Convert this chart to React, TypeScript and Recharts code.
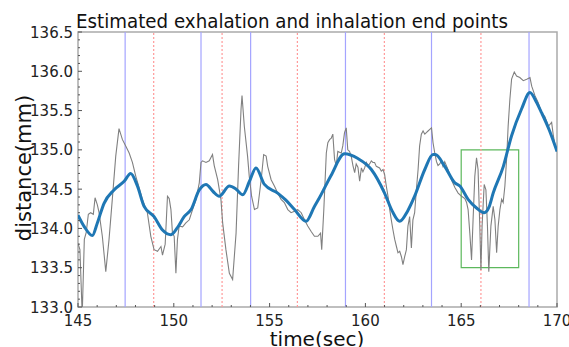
import React from 'react'
import { LineChart, Line, XAxis, YAxis, ReferenceLine, ReferenceArea } from 'recharts'

// raw distance signal (gray)
const rawTime = [
  145.0, 145.1, 145.22, 145.33, 145.43, 145.54, 145.66, 145.8, 145.89, 146.01,
  146.1, 146.27, 146.45, 146.62, 146.79, 146.97, 147.14, 147.32, 147.49, 147.67,
  147.84, 148.02, 148.19, 148.36, 148.62, 148.8, 148.97, 149.15, 149.33, 149.41,
  149.55, 149.67, 149.76, 149.85, 149.93, 150.02, 150.11, 150.19, 150.28, 150.46,
  150.63, 150.81, 150.98, 151.16, 151.33, 151.42, 151.5, 151.68, 151.85, 152.02,
  152.11, 152.29, 152.46, 152.55, 152.72, 152.9, 153.07, 153.25, 153.38, 153.51,
  153.56, 153.68, 153.85, 153.94, 154.06, 154.21, 154.38, 154.56, 154.69, 154.82,
  154.9, 155.08, 155.25, 155.42, 155.6, 155.77, 155.95, 156.12, 156.3, 156.47,
  156.65, 156.82, 156.99, 157.17, 157.34, 157.52, 157.66, 157.72, 157.83, 157.96,
  158.04, 158.13, 158.22, 158.3, 158.39, 158.48, 158.56, 158.65, 158.74, 158.82,
  158.91, 159.0, 159.08, 159.17, 159.26, 159.35, 159.44, 159.52, 159.61, 159.7,
  159.79, 159.87, 159.96, 160.05, 160.13, 160.22, 160.31, 160.39, 160.48, 160.57,
  160.74, 160.83, 160.92, 161.0, 161.09, 161.18, 161.27, 161.35, 161.44, 161.53,
  161.62, 161.7, 161.79, 161.88, 161.96, 162.05, 162.14, 162.22, 162.31, 162.4,
  162.48, 162.57, 162.66, 162.75, 162.83, 162.92, 163.01, 163.1, 163.18, 163.27,
  163.36, 163.45, 163.53, 163.62, 163.71, 163.79, 163.88, 163.97, 164.05, 164.14,
  164.31, 164.49, 164.67, 164.84, 165.02, 165.19, 165.28, 165.36, 165.45, 165.54,
  165.62, 165.71, 165.8, 165.88, 165.97, 166.03, 166.09, 166.2, 166.29, 166.37,
  166.44, 166.55, 166.67, 166.76, 166.85, 166.93, 167.02, 167.11, 167.19, 167.28,
  167.37, 167.45, 167.54, 167.63, 167.77, 167.89, 168.06, 168.24, 168.42, 168.59,
  168.68, 168.85, 169.02, 169.2, 169.37, 169.55, 169.72, 169.81, 169.9, 170.0,
]
const rawDistance = [
  133.81, 133.73, 132.9, 133.86, 133.95, 134.18, 134.2, 134.18, 134.39, 134.3,
  134.2, 133.9, 133.45, 133.86, 134.37, 134.92, 135.27, 135.13, 135.05, 134.96,
  134.84, 134.66, 134.52, 134.37, 134.2, 133.9, 133.73, 133.71, 133.77, 133.66,
  133.8, 134.41, 134.38, 134.24, 133.94, 133.9, 133.43, 133.86, 134.03, 134.02,
  134.07, 134.11, 134.24, 134.37, 134.58, 134.84, 134.86, 134.84, 134.86, 134.94,
  134.8, 134.62, 134.37, 134.07, 133.73, 133.43, 133.35, 133.94, 134.79, 135.52,
  135.69, 135.3, 134.92, 134.66, 134.41, 134.24, 134.26, 134.62, 134.94, 134.92,
  134.79, 134.62, 134.54, 134.45, 134.37, 134.33, 134.24, 134.2, 134.22, 134.24,
  134.2, 134.11, 134.03, 133.96, 133.9, 133.9, 133.94, 133.73, 134.24, 134.96,
  135.09, 135.13, 135.15, 135.2, 134.88, 134.8, 134.98, 134.97, 134.96, 135.05,
  135.22, 135.28, 135.0, 134.98, 134.92, 134.8, 134.71, 134.82, 134.78, 134.6,
  134.77, 134.72, 134.77, 134.84, 134.8, 134.82, 134.86, 134.84, 134.84, 134.79,
  134.77, 134.73, 134.75, 134.69, 134.54, 134.41, 134.24, 134.11, 133.98, 133.86,
  133.77, 133.69, 133.71, 133.64, 133.54, 133.64, 133.73, 134.03, 134.15, 133.75,
  134.11, 134.2, 134.49, 134.75, 135.05, 135.2, 135.24, 135.2, 135.22, 135.24,
  135.26, 135.28, 135.09, 134.96, 134.85, 134.8, 134.82, 134.86, 134.79, 134.85,
  134.75, 134.62, 134.52, 134.45, 134.41, 134.38, 134.33, 134.24, 133.94, 133.6,
  134.11, 134.66, 134.9, 134.75, 134.03, 133.47, 134.03, 134.56, 134.49, 134.03,
  133.45, 134.03, 134.28, 134.11, 133.69, 134.03, 134.24, 134.37, 134.33, 134.54,
  134.88, 135.3, 135.64, 135.9, 135.99, 135.94, 135.92, 135.88, 135.9, 135.92,
  135.81, 135.69, 135.6, 135.47, 135.42, 135.3, 135.35, 135.18, 135.05, 134.98,
]

// smoothed estimate (blue)
const smoothTime = [
  145.0, 145.31, 145.75, 146.01, 146.36, 146.88, 147.41, 147.75, 148.1, 148.45,
  148.97, 149.41, 149.85, 150.19, 150.54, 150.9, 151.33, 151.68, 152.05, 152.37,
  152.9, 153.25, 153.6, 153.95, 154.29, 154.73, 155.42, 155.85, 156.3, 156.9,
  157.34, 157.6, 158.2, 158.91, 159.61, 160.31, 161.0, 161.4, 161.79, 162.2,
  162.57, 163.1, 163.53, 163.65, 164.14, 164.67, 164.93, 165.36, 165.8, 166.2,
  166.45, 166.67, 167.2, 167.63, 168.15, 168.59, 168.9, 169.2, 169.6, 170.0,
]
const smoothDistance = [
  134.17, 134.03, 133.91, 134.07, 134.32, 134.49, 134.6, 134.7, 134.54, 134.28,
  134.15, 133.98, 133.92, 134.01, 134.15, 134.24, 134.49, 134.56, 134.47, 134.41,
  134.54, 134.5, 134.43, 134.6, 134.77, 134.56, 134.45, 134.36, 134.24, 134.09,
  134.28, 134.39, 134.67, 134.95, 134.89, 134.75, 134.45, 134.22, 134.09, 134.22,
  134.41, 134.75, 134.94, 134.94, 134.79, 134.58, 134.54, 134.37, 134.26, 134.2,
  134.27, 134.45, 134.79, 135.18, 135.52, 135.73, 135.62, 135.47, 135.25, 134.98,
]

const exhaleEnds = [147.46, 151.42, 154.01, 158.96, 163.45, 168.54]
const inhaleEnds = [148.95, 152.52, 156.45, 160.99, 166.03]

const xTicks = [145, 150, 155, 160, 165, 170]
const yTicks = [133.0, 133.5, 134.0, 134.5, 135.0, 135.5, 136.0, 136.5]

const rawData = rawTime.map((t, i) => ({ t, v: rawDistance[i] }))
const smoothData = smoothTime.map((t, i) => ({ t, v: smoothDistance[i] }))

// minor ticks: 1 s on x, 0.1 mm on y
const xMinor: number[] = []
for (let i = 0; i < xTicks.length - 1; i++) {
  for (let k = 0; k < 5; k++) xMinor.push(xTicks[i] + k)
}
xMinor.push(xTicks[xTicks.length - 1])
const yMinor: number[] = []
for (let i = 0; i < yTicks.length - 1; i++) {
  for (let k = 0; k < 5; k++) yMinor.push(Math.round((yTicks[i] + k * 0.1) * 10) / 10)
}
yMinor.push(yTicks[yTicks.length - 1])

const font = 'DejaVu Sans, sans-serif'

function XTick(props: any) {
  const { x, y, payload } = props
  const major = xTicks.includes(payload.value)
  return (
    <g>
      <line x1={x} x2={x} y1={y} y2={y - (major ? 4 : 2)} stroke="#555" strokeWidth={1} />
      {major && (
        <text x={x} y={y + 19} textAnchor="middle" fontSize={15} fontFamily={font} fill="#222">
          {payload.value}
        </text>
      )}
    </g>
  )
}

function YTick(props: any) {
  const { x, y, payload } = props
  const major = yTicks.some((v) => Math.abs(v - payload.value) < 1e-6)
  return (
    <g>
      <line x1={x} x2={x + (major ? 4 : 2)} y1={y} y2={y} stroke="#555" strokeWidth={1} />
      {major && (
        <text x={x - 5} y={y + 5.5} textAnchor="end" fontSize={15} fontFamily={font} fill="#222">
          {payload.value.toFixed(1)}
        </text>
      )}
    </g>
  )
}

export default function App() {
  return (
    <div style={{ position: 'absolute', left: 0, top: 0, width: 569, height: 347, background: '#fff' }}>
      <LineChart width={569} height={347} margin={{ top: 32, right: 12, bottom: 0, left: 0 }}>
        <XAxis
          type="number"
          dataKey="t"
          domain={[145, 170]}
          ticks={xMinor}
          interval={0}
          height={40}
          axisLine={false}
          tickLine={false}
          tickSize={0}
          tickMargin={0}
          tick={<XTick />}
          allowDataOverflow
        />
        <YAxis
          type="number"
          dataKey="v"
          domain={[133, 136.5]}
          ticks={yMinor}
          interval={0}
          width={78}
          axisLine={false}
          tickLine={false}
          tickSize={0}
          tickMargin={0}
          tick={<YTick />}
          allowDataOverflow
        />
        {exhaleEnds.map((t) => (
          <ReferenceLine key={'e' + t} x={t} stroke="#a4a4ff" strokeWidth={1.2} />
        ))}
        {inhaleEnds.map((t) => (
          <ReferenceLine key={'i' + t} x={t} stroke="#ff9a9a" strokeWidth={1.2} strokeDasharray="2 2" />
        ))}
        <Line
          data={rawData}
          dataKey="v"
          type="linear"
          stroke="#808080"
          strokeWidth={1.1}
          dot={false}
          activeDot={false}
          isAnimationActive={false}
        />
        <Line
          data={smoothData}
          dataKey="v"
          type="monotone"
          stroke="#1f77b4"
          strokeWidth={3}
          dot={false}
          activeDot={false}
          isAnimationActive={false}
        />
        <ReferenceArea x1={165} x2={168} y1={133.5} y2={135} fill="none" fillOpacity={0} stroke="#5cb85c" strokeWidth={1.2} />
        <ReferenceArea x1={145} x2={170} y1={133} y2={136.5} fill="none" fillOpacity={0} stroke="#aaaaaa" strokeWidth={1.5} />
      </LineChart>
      <svg width={569} height={347} style={{ position: 'absolute', left: 0, top: 0, pointerEvents: 'none' }}>
        <text x={76} y={28} fontSize={19} fontFamily={font} fill="#111" textLength={432} lengthAdjust="spacingAndGlyphs">
          Estimated exhalation and inhalation end points
        </text>
        <text x={317} y={346} textAnchor="middle" fontSize={20} fontFamily={font} fill="#111">
          time(sec)
        </text>
        <text
          x={31}
          y={168}
          textAnchor="middle"
          fontSize={21}
          fontFamily={font}
          fill="#111"
          transform="rotate(-90 31 168)"
        >
          distance(mm)
        </text>
      </svg>
    </div>
  )
}
